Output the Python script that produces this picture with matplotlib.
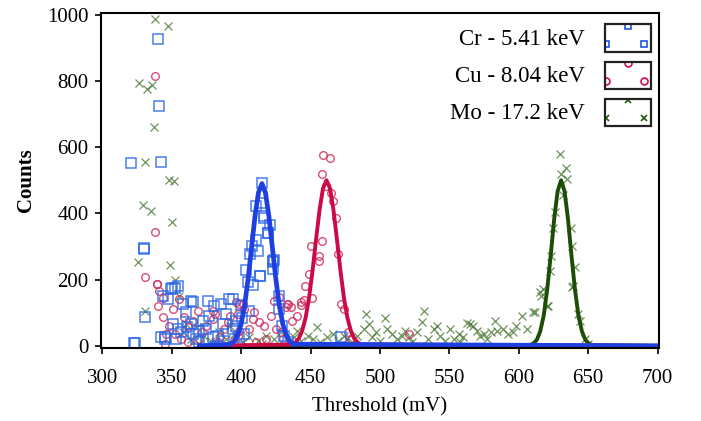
import numpy as np
import matplotlib
matplotlib.use("Agg")
import matplotlib.pyplot as plt
from matplotlib.legend_handler import HandlerBase
from matplotlib.patches import Rectangle
from matplotlib.lines import Line2D

plt.rcParams['font.family'] = ['Liberation Serif', 'DejaVu Serif']

# ---- measured points (threshold mV, counts) ----
cr_x = [322.7, 320.8, 329.7, 331.0, 340.2, 340.7, 342.0, 329.9, 323.2,
        350.3, 352.0, 343.6, 347.2, 358.4, 365.1, 375.9, 380.6, 385.5, 391.4,
        350.8, 354.4, 364.0, 372.3, 377.1, 369.9, 379.5, 374.7, 365.1, 386.7,
        393.9, 345.5, 353.1, 367.5, 398.6, 405.8, 400.5, 349.6, 354.8, 363.9,
        342.4, 345.2, 357.0, 361.0, 383.0, 389.0, 396.0, 360.0, 370.0, 388.0,
        393.8, 399.8, 403.6, 405.0, 406.5, 407.5, 408.4, 410.6, 411.0, 412.2,
        413.4, 413.7, 414.7, 414.7, 416.5, 416.5, 419.4, 419.7, 420.9, 422.6,
        422.8, 423.2, 423.8, 427.1, 427.1, 429.5, 431.0, 471.6, 396.5, 402.0,
        433.5]
cr_y = [8, 552, 296, 86, 927, 724, 556, 292, 8,
        176, 176, 152, 142, 126, 131, 136, 121, 126, 142,
        66, 51, 66, 76, 91, 46, 26, 51, 36, 66,
        51, 26, 21, 21, 26, 106, 83, 172, 182, 136,
        26, 21, 41, 56, 31, 96, 61, 101, 11, 16,
        142, 123, 228, 192, 277, 303, 184, 320, 423, 286,
        212, 212, 493, 432, 392, 387, 342, 342, 366, 257,
        252, 232, 260, 151, 110, 61, 31, 26, 76, 36,
        11]

cu_x = [337.6, 338.3, 330.4, 339.7, 339.5, 340.7, 340.0, 343.6, 350.8,
        359.1, 368.7, 379.5, 381.0, 396.2, 401.0, 408.2, 346.0, 352.0, 361.5,
        379.5, 390.2, 398.6, 398.6, 402.2, 397.4, 409.4, 413.0, 421.4, 423.8,
        427.4, 433.4, 435.8, 437.0, 440.5, 442.9, 416.5, 405.8, 397.4, 428.5,
        344.0, 348.0, 355.0, 357.0, 365.0, 372.0, 375.0, 385.0, 388.0, 392.0,
        345.0, 362.0, 370.0, 383.0, 418.0, 425.0, 432.1, 433.8, 443.4, 445.3,
        446.2, 449.1, 450.1, 451.3, 455.8, 456.2, 458.4, 458.5, 458.7, 461.4,
        463.7, 464.4, 465.9, 468.2, 469.6, 471.6, 474.0, 477.0, 479.0, 520.7,
        411.0, 395.0, 430.0]
cu_y = [816, 344, 208, 186, 187, 167, 121, 86, 111,
        86, 106, 106, 96, 132, 126, 81, 36, 36, 56,
        81, 71, 46, 127, 111, 96, 101, 71, 91, 136,
        147, 127, 116, 76, 91, 132, 61, 51, 31, 41,
        146, 61, 141, 21, 76, 41, 61, 26, 51, 91,
        6, 11, 21, 11, 21, 51, 116, 127, 124, 137,
        180, 217, 302, 146, 257, 272, 317, 518, 575, 483,
        566, 462, 437, 387, 277, 127, 111, 41, 21, 36,
        11, 16, 21]

mo_x = [338.3, 347.0, 326.3, 332.3, 336.0, 337.3, 331.0, 348.3, 351.4,
        329.2, 335.4, 350.3, 325.6, 348.8, 352.4, 330.4, 355.0, 358.0, 364.0,
        368.0, 373.0, 378.0, 384.0, 389.0, 395.0, 401.0, 406.0, 412.0, 418.0,
        424.0, 429.0, 434.0, 438.0, 443.0, 448.0, 452.0, 457.0, 462.0, 466.0,
        470.0, 474.0, 476.4, 483.6, 488.4, 489.6, 494.4, 497.0, 500.4, 504.0,
        505.2, 509.0, 512.4, 516.0, 521.0, 526.8, 530.3, 531.5, 534.4, 538.7,
        543.5, 547.0, 550.6, 553.5, 556.6, 560.0, 562.6, 565.0, 567.4, 572.4,
        577.2, 580.0, 583.0, 584.1, 588.9, 592.0, 596.1, 602.0, 605.7, 610.5,
        611.7, 615.3, 615.7, 617.6, 620.7, 621.2, 622.4, 622.9, 624.8, 626.0,
        629.6, 630.1, 632.0, 633.7, 634.9, 637.5, 638.4, 638.7, 639.2, 640.4,
        642.8, 644.0, 647.6, 650.0, 360.0, 370.0, 381.0, 392.0, 415.0, 440.0,
        455.0, 480.0, 492.0, 518.0, 523.0, 541.0, 558.0, 570.0, 575.0, 598.0]
mo_y = [987, 966, 794, 777, 788, 661, 556, 501, 498,
        426, 408, 375, 252, 245, 200, 105, 151, 41, 21,
        56, 31, 16, 41, 21, 36, 11, 26, 16, 31,
        21, 41, 11, 26, 16, 31, 21, 11, 26, 36,
        16, 31, 21, 31, 51, 96, 26, 43, 16, 83,
        51, 36, 21, 31, 26, 41, 71, 106, 21, 51,
        31, 16, 51, 21, 36, 26, 68, 66, 61, 31,
        21, 41, 76, 46, 51, 36, 41, 91, 51, 101,
        101, 162, 152, 172, 121, 121, 227, 272, 357, 403,
        578, 518, 455, 538, 503, 357, 302, 177, 182, 237,
        96, 76, 21, 6, 66, 6, 11, 61, 6, 46,
        56, 11, 66, 46, 11, 61, 11, 46, 36, 61]

# ---- fitted gaussian curves ----
cr_fit_x = [370, 392.5, 395, 397.5, 400, 402.5, 405, 407.5, 410, 412.5, 415,
            417.5, 420, 422.5, 425, 427.5, 430, 432.5, 435, 437.5, 700]
cr_fit_y = [0, 5, 14, 32, 66, 122, 202, 297, 392, 463, 490,
            463, 392, 297, 202, 122, 66, 32, 14, 5, 0]

cu_fit_x = [370, 436.5, 439, 441.5, 444, 446.5, 449, 451.5, 454, 456.5, 459, 461.5,
            464, 466.5, 469, 471.5, 474, 476.5, 479, 481.5, 484, 486.5, 700]
cu_fit_y = [0, 4, 10, 22, 46, 86, 147, 229, 322, 411, 476, 500,
            476, 411, 322, 229, 147, 86, 46, 22, 10, 4, 0]

mo_fit_x = [370, 608, 610.5, 613, 615.5, 618, 620.5, 623, 625.5, 628, 630.5,
            633, 635.5, 638, 640.5, 643, 645.5, 648, 650.5, 653, 700]
mo_fit_y = [0, 2, 7, 18, 44, 92, 170, 272, 382, 467, 500,
            467, 382, 272, 170, 92, 44, 18, 7, 2, 0]

labels = ['Cr - 5.41 keV', 'Cu - 8.04 keV', 'Mo - 17.2 keV']

fig = plt.figure(figsize=(7.01, 4.21), dpi=100)
ax = fig.add_axes([0.144, 0.173, 0.796, 0.796])

ax.plot(mo_x, mo_y, 'x', ms=5.5, mew=0.9, color='#3f6f25', alpha=0.75, ls='none')
ax.plot(cu_x, cu_y, 'o', ms=5.5, mew=1.0, mfc='none', mec='#d0305f', alpha=0.85, ls='none')
ax.plot(cr_x, cr_y, 's', ms=6.5, mew=1.1, mfc='none', mec='#2a66e6', alpha=0.85, ls='none')

ax.plot(mo_fit_x, mo_fit_y, color='#1e4d08', lw=2.8)
ax.plot(cu_fit_x, cu_fit_y, color='#cc0a48', lw=2.8)
ax.plot(cr_fit_x, cr_fit_y, color='#1f3fe0', lw=3.4)

ax.set_xlim(299, 701)
ax.set_ylim(-7, 1005)
ax.set_xticks(range(300, 701, 50))
ax.set_yticks(range(0, 1001, 200))
ax.tick_params(direction='out', length=4, width=1.2, labelsize=15)
ax.tick_params(axis='x', pad=11)
ax.tick_params(axis='y', pad=5)
for s in ax.spines.values():
    s.set_linewidth(1.5)
ax.set_xlabel('Threshold (mV)', fontsize=15, labelpad=7)
ax.set_ylabel('Counts', fontsize=15, fontweight='bold', labelpad=8)


class BoxHandler(HandlerBase):
    def create_artists(self, legend, orig_handle, xdescent, ydescent,
                       width, height, fontsize, trans):
        x0, y0 = -xdescent, -ydescent - 0.3 * height
        h = height * 1.45
        rect = Rectangle((x0, y0), width, h, fill=False, ec='#222222',
                         lw=1.6, transform=trans)
        pts = Line2D([x0 + 0.03 * width, x0 + 0.5 * width, x0 + 0.85 * width],
                     [y0 + 0.3 * h, y0 + 0.95 * h, y0 + 0.3 * h],
                     ls='none', marker=orig_handle.get_marker(),
                     ms=orig_handle.get_markersize(),
                     mfc=orig_handle.get_markerfacecolor(),
                     mec=orig_handle.get_markeredgecolor(),
                     mew=1.2, transform=trans)
        pts.set_clip_path(rect)
        return [pts, rect]


handles = [Line2D([], [], ls='none', marker='s', ms=5, mfc='none', mec='#1f55e0'),
           Line2D([], [], ls='none', marker='o', ms=5, mfc='none', mec='#d0104f'),
           Line2D([], [], ls='none', marker='x', ms=5, mec='#1e5a08')]
ax.legend(handles, labels, handler_map={Line2D: BoxHandler()}, loc='upper right',
          bbox_to_anchor=(1.0, 0.982),
          frameon=False, fontsize=16.5, markerfirst=False, handlelength=2.0,
          handleheight=0.9, labelspacing=0.65, handletextpad=0.9,
          borderaxespad=0.0, borderpad=0.35)

fig.savefig('out.png', dpi=100)
